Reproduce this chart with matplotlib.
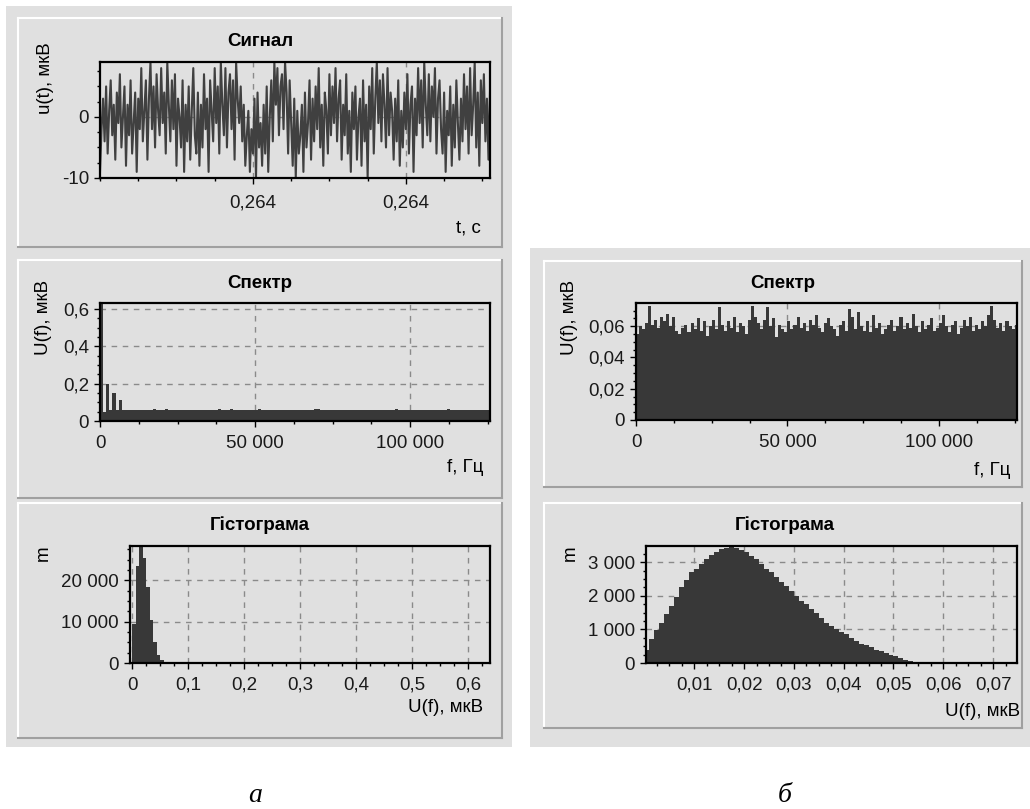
"""Signal / spectrum / histogram panels (a: signal with DC, b: white noise)."""

import matplotlib

matplotlib.use("Agg")
import matplotlib.pyplot as plt
import numpy as np
from matplotlib.lines import Line2D
from matplotlib.patches import Rectangle
from matplotlib.ticker import FixedLocator, FuncFormatter, MultipleLocator

# ----------------------------------------------------------------------
# Data
# ----------------------------------------------------------------------
T0 = 0.2636          # s, first sample in the window
DT = 4e-6            # s, sampling step (250 kHz)

SIGNAL = [
    -9, -2, 3, -4, 5, -6, 1, 6, -3, 2, -7, 4, -1, 7, -5, 0,
    5, -8, 2, -3, 6, -6, -1, 4, -9, 3, -2, 8, -4, 1, 6, -7,
    3, 9, -2, 5, -5, 7, 1, -3, 8, -1, 4, -6, 9, 2, -4, 6,
    -2, 7, -8, 3, 0, -5, 6, -9, 2, -4, 5, -7, 1, 8, -3, -6,
    4, -8, 2, -5, 7, -2, 3, -9, 6, 1, -4, 8, -1, 5, -6, 9,
    2, -3, 8, -5, 4, 7, -2, 6, -7, 9, 3, -1, 5, -4, 2, -8,
    -3, 1, -9, -2, -6, 3, -10, 4, -5, -1, -8, 2, -6, 5, -9, 0,
    6, -4, 9, 2, 8, -3, 5, 7, -2, 9, 4, -6, 6, -1, -8, 3,
    -10, 1, -6, -3, 2, -9, 4, -5, -1, 6, -7, 3, -4, 5, -2, 8,
    -5, 2, -8, 4, 1, -6, 7, -3, 5, -1, 8, -4, 3, 6, -7, 2,
    -3, 7, -6, 1, -9, 4, -2, 5, -7, 0, 3, -8, 6, -4, 2, -10,
    5, -2, 8, -6, 3, 9, -1, 6, -4, 7, 2, -5, 8, -3, 4, 1,
    -7, 3, -4, 6, -8, 1, -5, 4, -2, 7, -6, 2, 5, -9, 3, -3,
    8, -1, 6, -5, 9, 2, -3, 7, -4, 5, 0, 8, -6, 3, 6, -2,
    -6, 4, -9, 1, -3, 5, -8, 2, -5, 6, -1, -7, 3, -4, 7, -2,
    5, -6, 8, -3, 2, 9, -5, 4, -8, 6, -1, 7, -4, 3, -7, 4,
]

SPEC_BIN_HZ = 1000   # spectrum bin width

# spectrum of panel (a): DC spike, three low-frequency lines, flat floor
SPEC_A = [
    0.63, 0.05, 0.20, 0.06, 0.15, 0.06, 0.11,
    0.060, 0.059, 0.058, 0.060, 0.059, 0.057, 0.059, 0.058, 0.060, 0.059,
    0.063, 0.060, 0.061, 0.059, 0.063, 0.060, 0.058, 0.061, 0.059, 0.060,
    0.058, 0.059, 0.061, 0.059, 0.060, 0.058, 0.059, 0.061, 0.060, 0.059,
    0.061, 0.064, 0.060, 0.059, 0.061, 0.065, 0.060, 0.059, 0.058, 0.060,
    0.059, 0.058, 0.060, 0.059, 0.063, 0.060, 0.059, 0.058, 0.060, 0.061,
    0.059, 0.060, 0.058, 0.059, 0.060, 0.061, 0.059, 0.058, 0.060, 0.059,
    0.060, 0.059, 0.064, 0.062, 0.060, 0.059, 0.058, 0.060, 0.059, 0.061,
    0.059, 0.058, 0.060, 0.059, 0.059, 0.060, 0.058, 0.059, 0.061, 0.060,
    0.059, 0.058, 0.060, 0.059, 0.058, 0.060, 0.059, 0.060, 0.062, 0.060,
    0.059, 0.058, 0.060, 0.059, 0.060, 0.059, 0.058, 0.060, 0.059, 0.061,
    0.060, 0.059, 0.058, 0.060, 0.059, 0.064, 0.060, 0.059, 0.058, 0.060,
    0.059, 0.060, 0.059, 0.058, 0.060, 0.059, 0.061, 0.059, 0.060,
]

# spectrum of panel (b): white noise
SPEC_B = [
    0.055, 0.060, 0.058, 0.062, 0.073, 0.061, 0.064, 0.059, 0.066, 0.063,
    0.068, 0.060, 0.066, 0.057, 0.055, 0.059, 0.061, 0.056, 0.062, 0.058,
    0.065, 0.057, 0.063, 0.054, 0.060, 0.064, 0.058, 0.072, 0.061, 0.057,
    0.063, 0.059, 0.066, 0.056, 0.062, 0.060, 0.055, 0.064, 0.073, 0.066,
    0.062, 0.058, 0.064, 0.072, 0.060, 0.065, 0.053, 0.061, 0.058, 0.056,
    0.063, 0.058, 0.061, 0.066, 0.059, 0.062, 0.057, 0.064, 0.061, 0.067,
    0.059, 0.056, 0.062, 0.065, 0.060, 0.058, 0.054, 0.061, 0.063, 0.057,
    0.071, 0.066, 0.058, 0.069, 0.060, 0.057, 0.063, 0.056, 0.067, 0.059,
    0.062, 0.055, 0.058, 0.061, 0.064, 0.057, 0.060, 0.066, 0.058, 0.062,
    0.059, 0.068, 0.060, 0.056, 0.063, 0.058, 0.061, 0.065, 0.057, 0.059,
    0.062, 0.067, 0.060, 0.056, 0.061, 0.063, 0.055, 0.059, 0.064, 0.060,
    0.066, 0.057, 0.061, 0.058, 0.063, 0.060, 0.067, 0.073, 0.064, 0.059,
    0.062, 0.057, 0.063, 0.060, 0.058, 0.061,
]

HIST_A_BIN = 0.0063
HIST_A = [9500, 23500, 29000, 25500, 18500, 10500, 5000, 2000, 700, 250,
          80, 20, 5]

HIST_B_BIN = 0.001
HIST_B = [
    380, 700, 980, 1180, 1450, 1700, 1970, 2270, 2480, 2720,
    2800, 2950, 3100, 3200, 3300, 3380, 3420, 3440, 3420, 3360,
    3300, 3180, 3100, 2950, 2800, 2700, 2550, 2400, 2300, 2150,
    2000, 1850, 1750, 1600, 1480, 1350, 1200, 1100, 1020, 920,
    850, 750, 650, 580, 540, 470, 400, 350, 300, 240,
    200, 150, 80, 60, 40, 20, 10, 8, 5, 4,
    3, 2, 1, 1, 1, 0, 0, 0, 0, 0,
    0, 0, 0, 0, 1,
]

# ----------------------------------------------------------------------
# Style
# ----------------------------------------------------------------------
W, H = 1030, 809
BG = "#e0e0e0"
DARK = "#383838"
GRID = "#8a8a8a"
FS = 13.5

plt.rcParams.update({
    "font.family": ["Liberation Sans", "DejaVu Sans"],
    "font.size": FS,
    "axes.unicode_minus": False,
})


def fx(x):
    return x / W


def fy(y):
    return 1 - y / H


def px_rect(l, t, r, b):
    return [l / W, 1 - b / H, (r - l) / W, (b - t) / H]


def comma_fmt(v, _pos=None):
    if abs(v) < 1e-12:
        return "0"
    return ("%g" % v).replace(".", ",")


def thousands_fmt(v, _pos=None):
    return "{:,.0f}".format(v).replace(",", " ")


def time_fmt(v, _pos=None):
    return "{:.3f}".format(v).replace(".", ",")


def add_panel(fig, l, t, r, b):
    fig.add_artist(Rectangle((fx(l), fy(b)), (r - l) / W, (b - t) / H,
                             transform=fig.transFigure, fc=BG, ec="none",
                             zorder=-4))
    kw = dict(transform=fig.transFigure, lw=1.5, zorder=-3)
    fig.add_artist(Line2D([fx(l), fx(r)], [fy(t), fy(t)], color="white", **kw))
    fig.add_artist(Line2D([fx(l), fx(l)], [fy(t), fy(b)], color="white", **kw))
    fig.add_artist(Line2D([fx(l), fx(r)], [fy(b), fy(b)], color="#a0a0a0", **kw))
    fig.add_artist(Line2D([fx(r), fx(r)], [fy(t), fy(b)], color="#a0a0a0", **kw))


def style_axes(ax, xpad=6):
    ax.set_facecolor(BG)
    for s in ax.spines.values():
        s.set_linewidth(1.6)
        s.set_color("black")
    ax.tick_params(which="both", direction="out", colors="black",
                   labelcolor="#1a1a1a", top=False, right=False)
    ax.tick_params(which="major", length=4, width=1, labelsize=FS)
    ax.tick_params(which="minor", length=2.5, width=1)
    ax.tick_params(axis="x", which="major", pad=xpad)
    ax.tick_params(axis="y", which="major", pad=4)
    ax.grid(True, which="major", color=GRID, linestyle=(0, (4, 4)), linewidth=1)
    ax.set_axisbelow(True)


def add_texts(fig, title_xy, title, ylab_xy, ylab, xlab_xy, xlab):
    fig.text(fx(title_xy[0]), fy(title_xy[1]), title, ha="center", va="center",
             fontweight="bold", fontsize=FS)
    fig.text(fx(ylab_xy[0]), fy(ylab_xy[1]), ylab, ha="center", va="center",
             rotation=90, fontsize=FS)
    fig.text(fx(xlab_xy[0]), fy(xlab_xy[1]), xlab, ha="right", va="center",
             fontsize=FS)


fig = plt.figure(figsize=(W / 100, H / 100), dpi=100)
fig.patch.set_facecolor("white")

# form backgrounds
fig.add_artist(Rectangle((fx(6), fy(747)), (512 - 6) / W, (747 - 6) / H,
                         transform=fig.transFigure, fc=BG, ec="none", zorder=-6))
fig.add_artist(Rectangle((fx(530), fy(747)), (1030 - 530) / W, (747 - 248) / H,
                         transform=fig.transFigure, fc=BG, ec="none", zorder=-6))

for rect in [(18, 18, 502, 247), (18, 260, 502, 498), (18, 503, 502, 738),
             (544, 261, 1022, 487), (544, 503, 1022, 728)]:
    add_panel(fig, *rect)

# ----------------------------------------------------------------------
# (a) Signal
# ----------------------------------------------------------------------
ax = fig.add_axes(px_rect(100, 62, 490, 178))
style_axes(ax, xpad=8)
t = T0 + np.arange(len(SIGNAL)) * DT
ax.plot(t, SIGNAL, color="#404040", lw=1.5)
ax.set_xlim(T0, t[-1])
ax.set_ylim(-10, 9)
ax.xaxis.set_major_locator(FixedLocator([0.2640, 0.2644]))
ax.xaxis.set_minor_locator(MultipleLocator(0.0001))
ax.xaxis.set_major_formatter(FuncFormatter(time_fmt))
ax.yaxis.set_major_locator(FixedLocator([-10, 0]))
ax.yaxis.set_minor_locator(MultipleLocator(2.5))
ax.yaxis.set_major_formatter(FuncFormatter(comma_fmt))
add_texts(fig, (260, 42), "Сигнал", (46, 78), "u(t), мкВ", (481, 228), "t, c")

# ----------------------------------------------------------------------
# Spectra
# ----------------------------------------------------------------------
for spec, rect, ylim, ystep, yminor, txt in [
    (SPEC_A, (100, 303, 490, 421), 0.632, 0.2, 0.05,
     ((260, 283), (43, 317), (483, 467))),
    (SPEC_B, (636, 303, 1017, 420), 0.0748, 0.02, 0.005,
     ((783, 283), (570, 317), (1010, 470))),
]:
    ax = fig.add_axes(px_rect(*rect))
    style_axes(ax)
    edges = np.arange(len(spec) + 1) * SPEC_BIN_HZ
    ax.stairs(spec, edges, fill=True, color=DARK, lw=0)
    ax.set_xlim(0, 125800)
    ax.set_ylim(0, ylim)
    ax.xaxis.set_major_locator(MultipleLocator(50000))
    ax.xaxis.set_minor_locator(MultipleLocator(12500))
    ax.xaxis.set_major_formatter(FuncFormatter(thousands_fmt))
    ax.yaxis.set_major_locator(MultipleLocator(ystep))
    ax.yaxis.set_minor_locator(MultipleLocator(yminor))
    ax.yaxis.set_major_formatter(FuncFormatter(comma_fmt))
    add_texts(fig, txt[0], "Спектр", txt[1], "U(f), мкВ", txt[2], "f, Гц")

# ----------------------------------------------------------------------
# Histograms
# ----------------------------------------------------------------------
for hist, width, rect, xlim, ylim, xmaj, xmin, ymaj, txt in [
    (HIST_A, HIST_A_BIN, (130, 546, 490, 663), (-0.004, 0.639), 28300,
     0.1, 0.025, 10000, ((260, 525), (43, 553), (483, 707))),
    (HIST_B, HIST_B_BIN, (646, 546, 1017, 663), (0.0003, 0.0748), 3480,
     0.01, 0.0025, 1000, ((785, 525), (570, 553), (1020, 712))),
]:
    ax = fig.add_axes(px_rect(*rect))
    style_axes(ax)
    edges = np.arange(len(hist) + 1) * width
    ax.stairs(hist, edges, fill=True, color=DARK, lw=0)
    ax.set_xlim(*xlim)
    ax.set_ylim(0, ylim)
    ax.xaxis.set_major_locator(MultipleLocator(xmaj))
    ax.xaxis.set_minor_locator(MultipleLocator(xmin))
    ax.xaxis.set_major_formatter(FuncFormatter(comma_fmt))
    ax.yaxis.set_major_locator(MultipleLocator(ymaj))
    ax.yaxis.set_minor_locator(MultipleLocator(ymaj / 4))
    ax.yaxis.set_major_formatter(FuncFormatter(thousands_fmt))
    add_texts(fig, txt[0], "Гістограма", txt[1], "m", txt[2], "U(f), мкВ")

# sub-figure letters
for x, letter in [(255, "а"), (785, "б")]:
    fig.text(fx(x), fy(795), letter, ha="center", va="center",
             fontfamily="Liberation Serif", style="italic", fontsize=20)

fig.savefig("out.png", dpi=100, facecolor="white")
